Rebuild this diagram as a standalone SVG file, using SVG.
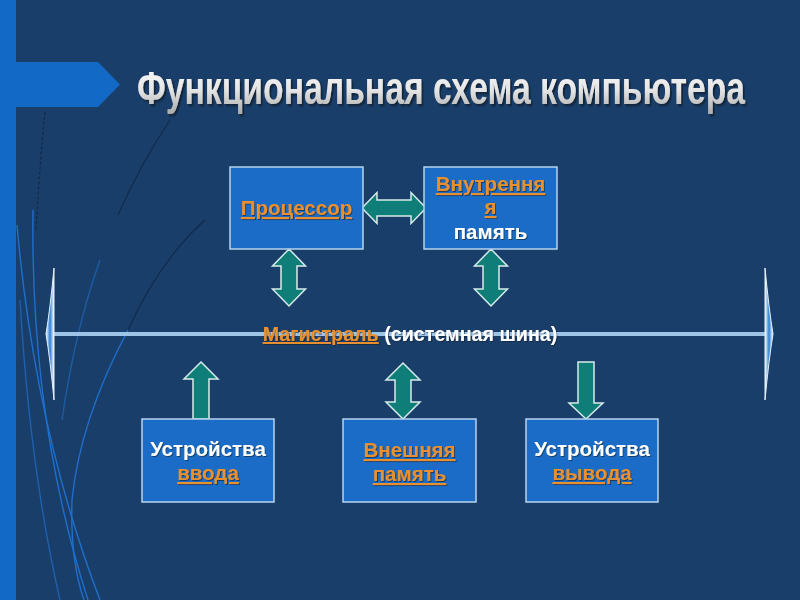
<svg xmlns="http://www.w3.org/2000/svg" width="800" height="600" viewBox="0 0 800 600">
<defs>
<linearGradient id="tg" x1="0" y1="0" x2="0" y2="1">
<stop offset="0" stop-color="#ffffff"/>
<stop offset="0.55" stop-color="#e4e4e4"/>
<stop offset="1" stop-color="#a9a9a9"/>
</linearGradient>
<linearGradient id="hg" x1="0" y1="0" x2="1" y2="0">
<stop offset="0" stop-color="#ffffff"/>
<stop offset="0.5" stop-color="#2b7fd9"/>
<stop offset="1" stop-color="#ffffff"/>
</linearGradient>
<filter id="sh" x="-10%" y="-50%" width="120%" height="200%">
<feDropShadow dx="2.5" dy="2" stdDeviation="1" flood-color="#0b1a2e" flood-opacity="0.85"/>
</filter>
<filter id="ts" x="-10%" y="-50%" width="120%" height="200%">
<feDropShadow dx="1" dy="1" stdDeviation="0.6" flood-color="#0b1a2e" flood-opacity="0.6"/>
</filter>
<style>
.box{fill:#1b6cc6;stroke:#b8d2ee;stroke-width:1.5}
.arr{fill:#0f7d78;stroke:#d6ecea;stroke-width:1.5;stroke-linejoin:miter}
.t{font-family:"Liberation Sans",Arial,sans-serif;font-weight:bold;font-size:20.5px;text-anchor:middle;filter:url(#ts)}
.bus{font-size:19.7px}
.w{fill:#ffffff}
.o{fill:#e8902e;text-decoration:underline}
.deco{fill:none;stroke:#1f6fcc;stroke-width:1.4}
.dark{fill:none;stroke:#0f2a4c;stroke-width:1.2}
</style>
</defs>
<rect width="800" height="600" fill="#1a3e6a"/>
<!-- left decoration -->
<rect x="0" y="0" width="16" height="600" fill="#1369c6"/>
<polygon points="16,62 98,62 120,84.5 98,107 16,107" fill="#1369c6"/>
<path class="dark" d="M45 112 Q40 160 36 230" stroke-dasharray="3 2"/>
<path class="dark" d="M170 120 Q140 165 118 215"/>
<path class="deco" d="M17 225 Q35 430 100 600"/>
<path class="deco" d="M33 210 Q30 420 88 600" stroke-width="1"/>
<path class="deco" d="M20 300 Q30 470 60 600" stroke-width="0.8" opacity="0.7"/>
<path class="dark" d="M205 220 Q160 260 128 330"/>
<path class="deco" d="M128 330 Q80 420 72 500 Q70 560 84 600" stroke-width="1.1"/>
<path class="deco" d="M100 260 Q75 330 62 420" stroke-width="0.8" opacity="0.6"/>
<!-- title -->
<g id="title" transform="translate(441,104) scale(0.718,1)">
<text x="0" y="0" font-family="'Liberation Sans',Arial,sans-serif" font-weight="bold" font-size="47" text-anchor="middle" textLength="847" lengthAdjust="spacingAndGlyphs" fill="url(#tg)" filter="url(#sh)">Функциональная схема компьютера</text>
</g>
<!-- connectors -->
<g id="connectors">
<line x1="53" y1="334" x2="765" y2="334" stroke="#9dc3e6" stroke-width="4"/>
<path d="M54 268 Q50 310 46 334 Q50 358 54 400 Z" fill="url(#hg)" stroke="#e6f0fa" stroke-width="1"/>
<path d="M765 268 Q769 310 773 334 Q769 358 765 400 Z" fill="url(#hg)" stroke="#e6f0fa" stroke-width="1"/>
<path class="arr" d="M362 208 L377 192.5 L377 200 L411 200 L411 192.5 L426 208 L411 223.5 L411 216 L377 216 L377 223.5 Z"/>
<path class="arr" d="M289 249 L305.5 266 L297 266 L297 289 L305.5 289 L289 306 L272.5 289 L281 289 L281 266 L272.5 266 Z"/>
<path class="arr" d="M491 249 L507.5 266 L499 266 L499 289 L507.5 289 L491 306 L474.5 289 L483 289 L483 266 L474.5 266 Z"/>
<path class="arr" d="M403 363 L420 380 L411 380 L411 402 L420 402 L403 419 L386 402 L395 402 L395 380 L386 380 Z"/>
<path class="arr" d="M201 362 L218 379 L209 379 L209 419 L193 419 L193 379 L184 379 Z"/>
<path class="arr" d="M578 362 L594 362 L594 403 L603 403 L586 419 L569 403 L578 403 Z"/>
</g>
<g id="bus-label">
<text class="t bus" x="410" y="341"><tspan class="o">Магистраль</tspan><tspan class="w"> (системная шина)</tspan></text>
</g>
<g id="processor">
<rect class="box" x="230" y="167" width="133" height="82"/>
<text class="t o" x="296.5" y="215">Процессор</text>
</g>
<g id="internal-memory">
<rect class="box" x="424" y="167" width="133" height="82"/>
<text class="t o" x="490.5" y="191">Внутрення</text>
<text class="t o" x="490.5" y="214">я</text>
<text class="t w" x="490.5" y="239">память</text>
</g>
<g id="input-devices">
<rect class="box" x="142" y="419" width="132" height="83"/>
<text class="t w" x="208" y="456">Устройства</text>
<text class="t o" x="208" y="480">ввода</text>
</g>
<g id="external-memory">
<rect class="box" x="343" y="419" width="133" height="83"/>
<text class="t o" x="409.5" y="457">Внешняя</text>
<text class="t o" x="409.5" y="481">память</text>
</g>
<g id="output-devices">
<rect class="box" x="526" y="419" width="132" height="83"/>
<text class="t w" x="592" y="456">Устройства</text>
<text class="t o" x="592" y="480">вывода</text>
</g>
</svg>
